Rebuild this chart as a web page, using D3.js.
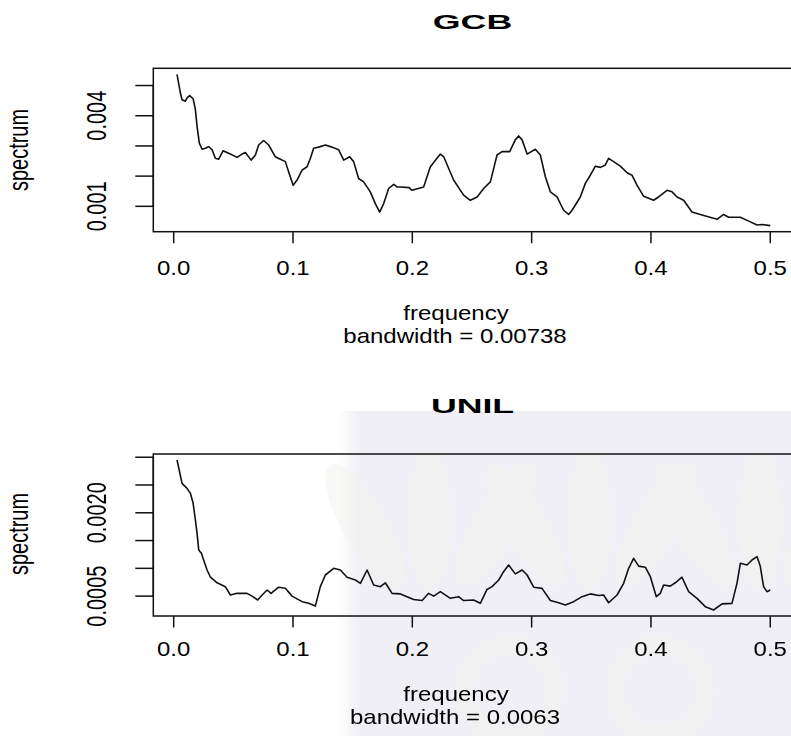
<!DOCTYPE html>
<html><head><meta charset="utf-8">
<script src="https://cdn.jsdelivr.net/npm/d3@7"></script>
<style>
body{margin:0;background:#fff;overflow:hidden;}
svg{display:block;}
text{font-family:"Liberation Sans",Arial,sans-serif;fill:#000;}
</style>
</head><body>
<svg id="c" width="791" height="736"></svg>
<script>
// ---------- data ----------
const gcbFreq = [
0.0028,0.0056,0.0070,0.0098,0.0112,0.0134,0.0163,0.0182,0.0196,0.0215,
0.0238,0.0266,0.0293,0.0322,0.0349,0.0377,0.0414,0.0475,0.0531,0.0573,
0.0601,0.0649,0.0685,0.0712,0.0754,0.0796,0.0852,0.0894,0.0936,0.0964,
0.1001,0.1034,0.1076,0.1118,0.1146,0.1173,0.1215,0.1271,0.1327,0.1383,
0.1425,0.1475,0.1508,0.1550,0.1592,0.1648,0.1690,0.1726,0.1760,0.1802,
0.1844,0.1872,0.1900,0.1973,0.1998,0.2095,0.2151,0.2235,0.2263,0.2346,
0.2430,0.2486,0.2543,0.2598,0.2654,0.2710,0.2752,0.2816,0.2863,0.2891,
0.2920,0.2962,0.3031,0.3073,0.3115,0.3157,0.3213,0.3268,0.3310,0.3339,
0.3408,0.3450,0.3492,0.3534,0.3576,0.3618,0.3645,0.3687,0.3743,0.3800,
0.3841,0.3883,0.3939,0.4022,0.4064,0.4135,0.4177,0.4219,0.4274,0.4344,
0.4414,0.4554,0.4609,0.4651,0.4749,0.4819,0.4889,0.4931,0.5000];
const gcbSpec = [
0.00537,0.00476,0.00453,0.00448,0.00459,0.00467,0.00456,0.0042,0.00364,0.00309,
0.00289,0.00292,0.00298,0.00287,0.00259,0.00256,0.00284,0.00273,0.00262,0.00273,
0.00278,0.00253,0.0027,0.00303,0.00318,0.00303,0.00264,0.00256,0.00248,0.00214,
0.0017,0.00187,0.0022,0.00231,0.00259,0.00292,0.00296,0.00303,0.00296,0.00287,
0.00253,0.00264,0.00248,0.00192,0.00181,0.00148,0.00109,0.00081,0.00109,0.00159,
0.00173,0.00164,0.00164,0.00162,0.00153,0.00164,0.00231,0.00273,0.00264,0.00187,
0.00137,0.0012,0.00131,0.00159,0.00181,0.0027,0.00281,0.00281,0.0032,0.00333,
0.0032,0.00273,0.00289,0.0027,0.00198,0.00148,0.00131,0.00087,0.00073,0.00087,
0.00131,0.00176,0.00203,0.00233,0.00229,0.00237,0.00259,0.00248,0.00233,0.00211,
0.00203,0.0017,0.00133,0.0012,0.00131,0.00153,0.00148,0.00131,0.0012,0.00081,
0.00073,0.00057,0.00073,0.00064,0.00064,0.00051,0.00038,0.0004,0.00036];

const unilFreq = [
0.0028,0.0042,0.0070,0.0112,0.0140,0.0163,0.0182,0.0196,0.0210,0.0232,
0.0251,0.0280,0.0308,0.0364,0.0433,0.0475,0.0531,0.0615,0.0657,0.0704,
0.0741,0.0783,0.0816,0.0880,0.0936,0.0992,0.1076,0.1131,0.1187,0.1229,
0.1271,0.1341,0.1397,0.1453,0.1523,0.1565,0.1621,0.1676,0.1732,0.1774,
0.1830,0.1900,0.2011,0.2082,0.2137,0.2179,0.2235,0.2319,0.2388,0.2430,
0.2514,0.2570,0.2626,0.2668,0.2724,0.2765,0.2807,0.2863,0.2920,0.2962,
0.3017,0.3087,0.3157,0.3226,0.3282,0.3352,0.3422,0.3492,0.3562,0.3603,
0.3645,0.3716,0.3771,0.3813,0.3855,0.3897,0.3953,0.3995,0.4045,0.4078,
0.4106,0.4162,0.4204,0.4260,0.4316,0.4386,0.4456,0.4525,0.4596,0.4679,
0.4721,0.4749,0.4805,0.4847,0.4889,0.4916,0.4944,0.4972,0.5000];
const unilSpec = [
0.00295,0.00281,0.00253,0.00244,0.00235,0.00217,0.00187,0.00163,0.00133,0.00127,
0.00115,0.00097,0.00084,0.00074,0.00067,0.00052,0.00055,0.00055,0.0005,0.00043,
0.00052,0.00061,0.00055,0.00066,0.00064,0.0005,0.0004,0.00037,0.00032,0.00067,
0.00088,0.0010,0.00097,0.00084,0.00079,0.00073,0.00097,0.0007,0.00067,0.00074,
0.00055,0.00054,0.00044,0.00042,0.00055,0.0005,0.00058,0.00046,0.00049,0.00042,
0.00043,0.00037,0.00062,0.00067,0.00079,0.00094,0.00106,0.0009,0.00097,0.00088,
0.00066,0.00064,0.00042,0.00038,0.00034,0.0004,0.00049,0.00054,0.00051,0.00052,
0.00038,0.00052,0.00073,0.001,0.00118,0.00104,0.00102,0.00085,0.00049,0.00055,
0.0007,0.00068,0.00074,0.00084,0.00058,0.00046,0.00031,0.00025,0.00036,0.00037,
0.00073,0.00109,0.00106,0.00115,0.00121,0.00104,0.00067,0.00058,0.00061];

const xTicks = [0, 0.1, 0.2, 0.3, 0.4, 0.5];
const xTickLabels = ["0.0", "0.1", "0.2", "0.3", "0.4", "0.5"];
const gcbYTicks = [0.001, 0.002, 0.003, 0.004, 0.005];
const gcbYLabels = ["0.001", "", "", "0.004", ""];
const unilYTicks = [0.0005, 0.0010, 0.0015, 0.0020, 0.0025, 0.0030];
const unilYLabels = ["0.0005", "", "", "0.0020", "", ""];
const titles = ["GCB", "UNIL"];
const xLabel = "frequency";
const yLabel = "spectrum";
const bandwidths = ["bandwidth = 0.00738", "bandwidth = 0.0063"];

// ---------- drawing ----------
const svg = d3.select("#c");

// faint watermark area (lower right)
const defs = svg.append("defs");
const lg = defs.append("linearGradient").attr("id","fadeL").attr("x1","0").attr("x2","1").attr("y1","0").attr("y2","0");
lg.append("stop").attr("offset","0").attr("stop-color","#efeff5").attr("stop-opacity",0);
lg.append("stop").attr("offset","0.05").attr("stop-color","#efeff5").attr("stop-opacity",1);
lg.append("stop").attr("offset","1").attr("stop-color","#efeff5").attr("stop-opacity",1);
svg.append("rect").attr("x",338).attr("y",411).attr("width",460).attr("height",330).attr("fill","url(#fadeL)");
// very faint leaf-like decoration
const deco = svg.append("g").attr("fill","#f3f2ee").attr("opacity",0.55);
[[430,520],[590,520],[760,520]].forEach(([cx,cy])=>{
  [[-45,-30],[0,0],[45,30]].forEach(([dx,rot])=>{
    deco.append("ellipse").attr("cx",cx+dx).attr("cy",cy).attr("rx",22).attr("ry",70)
      .attr("transform",`rotate(${rot},${cx+dx},${cy+40})`);
  });
});
[[510,690],[660,690]].forEach(([cx,cy])=>{
  deco.append("circle").attr("cx",cx).attr("cy",cy).attr("r",45).attr("fill","none")
    .attr("stroke","#f3f2ee").attr("stroke-width",18);
});

function padded(vals){
  const mn = d3.min(vals), mx = d3.max(vals), r = mx - mn;
  return [mn - 0.04*r, mx + 0.04*r];
}

function text(g, x, y, s, o){
  const t = g.append("text")
    .attr("text-anchor","middle")
    .attr("font-size", o.size)
    .attr("font-weight", o.bold ? "bold" : null)
    .attr("transform", `translate(${x},${y}) scale(${o.sx},1)` + (o.rot ? " rotate(-90)" : ""))
    .text(s);
  if (o.dy) t.attr("dy", o.dy);
  return t;
}

const panels = [
  {freq: gcbFreq, spec: gcbSpec, yTicks: gcbYTicks, yLabels: gcbYLabels, top: 68.3, bottom: 231.7,
   titleY: 29, tickLabY: 275, xlabY: 320, bwY: 343, ylabY: 150},
  {freq: unilFreq, spec: unilSpec, yTicks: unilYTicks, yLabels: unilYLabels, top: 454, bottom: 616,
   titleY: 413, tickLabY: 656, xlabY: 701, bwY: 724, ylabY: 534}
];
const left = 153.3, right = 794;

panels.forEach((p, i) => {
  const g = svg.append("g");
  const x = d3.scaleLinear().domain(padded(p.freq)).range([left, right]);
  const y = d3.scaleLinear().domain(padded(p.spec)).range([p.bottom, p.top]);

  // series line
  const line = d3.line().x((d, k) => x(p.freq[k])).y(d => y(d));
  g.append("path").datum(p.spec).attr("d", line)
    .attr("fill","none").attr("stroke","#111").attr("stroke-width",1.6).attr("stroke-linejoin","round");

  // box
  g.append("rect").attr("x",left).attr("y",p.top).attr("width",right-left).attr("height",p.bottom-p.top)
    .attr("fill","none").attr("stroke","#111").attr("stroke-width",1.5);

  // x axis
  const xa = g.append("g");
  xTicks.forEach((t, k) => {
    xa.append("line").attr("x1",x(t)).attr("x2",x(t)).attr("y1",p.bottom).attr("y2",p.bottom+11.5)
      .attr("stroke","#111").attr("stroke-width",1.5);
    text(xa, x(t), p.tickLabY, xTickLabels[k], {size:20, sx:1.2});
  });

  // y axis
  const ya = g.append("g");
  ya.append("line").attr("x1",left).attr("x2",left)
    .attr("y1",y(p.yTicks[0])).attr("y2",y(p.yTicks[p.yTicks.length-1]))
    .attr("stroke","#111").attr("stroke-width",1.5);
  p.yTicks.forEach((t, k) => {
    ya.append("line").attr("x1",left-18).attr("x2",left).attr("y1",y(t)).attr("y2",y(t))
      .attr("stroke","#111").attr("stroke-width",1.5);
    if (p.yLabels[k]) text(ya, 96, y(t), p.yLabels[k], {size:20, sx:1.4, rot:true, dy:"0.36em"});
  });

  // titles and labels
  text(g, 472.5, p.titleY, titles[i], {size:21, sx:1.7, bold:true});
  text(g, 456, p.xlabY, xLabel, {size:20, sx:1.2});
  text(g, 455, p.bwY, bandwidths[i], {size:20, sx:1.2});
  text(g, 21, p.ylabY, yLabel, {size:20, sx:1.35, rot:true, dy:"0.25em"});
});
</script>
</body></html>
